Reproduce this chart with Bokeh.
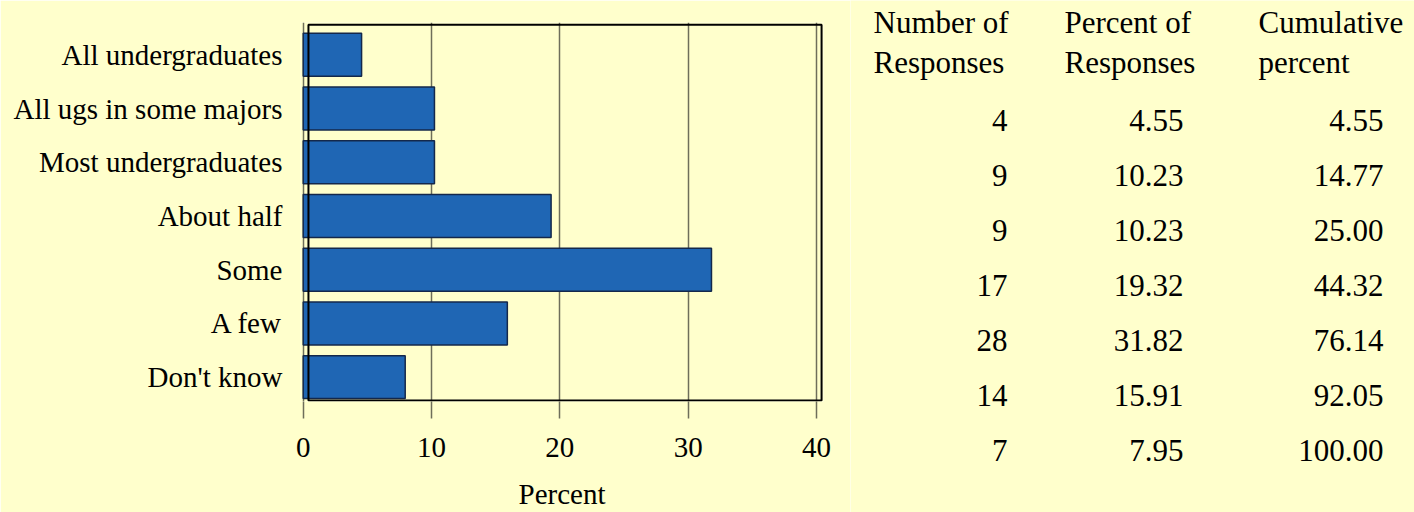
from bokeh.plotting import figure
from bokeh.models import Range1d, FixedTicker, ColumnDataSource
from bokeh.layouts import row
from bokeh.embed import file_html
from bokeh.resources import INLINE
from bokeh.core.properties import value

# ---------------- data ----------------
categories = ["All undergraduates", "All ugs in some majors", "Most undergraduates",
              "About half", "Some", "A few", "Don't know"]
responses = [4, 9, 9, 17, 28, 14, 7]
percent = [4.55, 10.23, 10.23, 19.32, 31.82, 15.91, 7.95]
cumulative = [4.55, 14.77, 25.00, 44.32, 76.14, 92.05, 100.00]
x_ticks = [0, 10, 20, 30, 40]
x_label = "Percent"
header_line1 = ["Number of", "Percent of", "Cumulative"]
header_line2 = ["Responses", "Responses", "percent"]

# ---------------- style ----------------
BG = "#FFFFCC"
BAR = "#1F66B4"
BAR_LINE = "#14284B"
GRID = "#6E6E5A"
FONT = "Liberation Serif"

n = len(categories)
ypos = [n - i for i in range(n)]  # top category highest

# ---------------- bar chart ----------------
p = figure(width=850, height=512, output_backend="svg", toolbar_location=None,
           x_range=Range1d(-0.21, 40.55), y_range=Range1d(0.546, 7.602),
           min_border_left=300, min_border_right=27, min_border_top=22, min_border_bottom=109)
p.background_fill_color = BG
p.border_fill_color = BG
p.outline_line_color = None

src = ColumnDataSource(dict(y=ypos, pct=percent, cat=categories))
p.hbar(y="y", right="pct", left=0, height=0.8, source=src,
       fill_color=BAR, line_color=BAR_LINE, line_width=1.5)

# offset frame box drawn over the bars
p.quad(left=[0.41], right=[40.4], bottom=[0.565], top=[7.56],
       fill_color=None, line_color="black", line_width=2)

p.xgrid.ticker = FixedTicker(ticks=x_ticks)
p.xgrid.grid_line_color = GRID
p.xgrid.grid_line_width = 1.5
p.ygrid.grid_line_color = None

xa = p.xaxis[0]
xa.ticker = FixedTicker(ticks=x_ticks)
xa.axis_line_color = None
xa.major_tick_out = 17
xa.major_tick_in = 0
xa.major_tick_line_color = GRID
xa.major_tick_line_width = 1.5
xa.minor_tick_line_color = None
xa.major_label_standoff = 19
xa.major_label_text_font = FONT
xa.major_label_text_font_size = "29px"
xa.major_label_text_color = "black"
xa.axis_label = x_label
xa.axis_label_text_font = FONT
xa.axis_label_text_font_size = "29px"
xa.axis_label_text_font_style = "normal"
xa.axis_label_text_color = "black"
xa.axis_label_standoff = 18

ya = p.yaxis[0]
ya.ticker = FixedTicker(ticks=ypos)
ya.major_label_overrides = {y: c for y, c in zip(ypos, categories)}
ya.axis_line_color = None
ya.major_tick_line_color = None
ya.minor_tick_line_color = None
ya.major_label_standoff = 12
ya.major_label_text_font = FONT
ya.major_label_text_font_size = "29px"
ya.major_label_text_color = "black"

# ---------------- table ----------------
t = figure(width=564, height=512, output_backend="svg", toolbar_location=None,
           x_range=Range1d(850, 1414), y_range=Range1d(7.127, -2.182),
           min_border=0)
t.background_fill_color = BG
t.border_fill_color = BG
t.outline_line_color = None
t.axis.visible = False
t.grid.visible = False
for fig in (p, t):
    try:
        fig.frame_align = False
    except Exception:
        pass

rows = list(range(n))
col_right = [1007, 1183, 1383]
col_left = [873, 1064, 1258]
col_vals = [[str(v) for v in responses],
            ["%.2f" % v for v in percent],
            ["%.2f" % v for v in cumulative]]
for j in range(3):
    t.text(x=[col_right[j]] * n, y=rows, text=col_vals[j],
           text_align="right", text_baseline="middle",
           text_font=value(FONT), text_font_size="31px", text_color="black")
    t.text(x=[col_left[j]] * 2, y=[-1.787, -1.06], text=[header_line1[j], header_line2[j]],
           text_align="left", text_baseline="middle",
           text_font=value(FONT), text_font_size="31px", text_color="black")

layout = row(p, t)
open("out.html", "w").write(file_html(layout, INLINE))
